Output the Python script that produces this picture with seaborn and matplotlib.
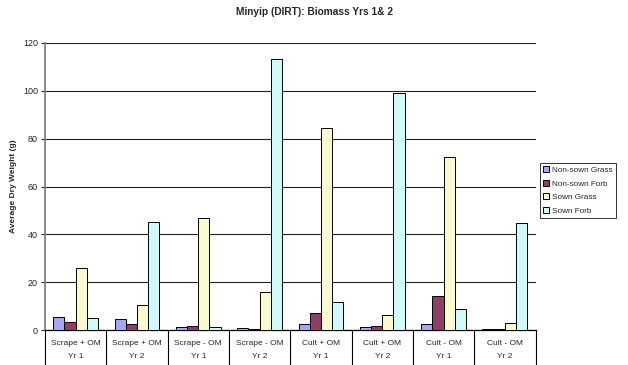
import matplotlib
matplotlib.use("Agg")
import matplotlib.pyplot as plt
import seaborn as sns
import pandas as pd

treatments = ["Scrape + OM", "Scrape + OM", "Scrape - OM", "Scrape - OM",
              "Cult + OM", "Cult + OM", "Cult - OM", "Cult - OM"]
years = ["Yr 1", "Yr 2", "Yr 1", "Yr 2", "Yr 1", "Yr 2", "Yr 1", "Yr 2"]
series = ["Non-sown Grass", "Non-sown Forb", "Sown Grass", "Sown Forb"]
non_sown_grass = [5.4, 4.5, 1.2, 0.7, 2.4, 1.1, 2.4, 0.3]
non_sown_forb = [3.4, 2.5, 1.6, 0.5, 7.0, 1.6, 14.1, 0.5]
sown_grass = [26.1, 10.3, 46.8, 15.7, 84.3, 6.4, 72.4, 2.8]
sown_forb = [4.9, 45.3, 1.2, 113.2, 11.7, 99.2, 8.9, 44.7]
colors = ["#9999FF", "#993366", "#FFFFCC", "#CCFFFF"]

cats = [f"{t}\n{y}" for t, y in zip(treatments, years)]
rows = []
for s, vals in zip(series, [non_sown_grass, non_sown_forb, sown_grass, sown_forb]):
    for c, v in zip(cats, vals):
        rows.append({"cat": c, "series": s, "value": v})
df = pd.DataFrame(rows)

sns.set_style("white")
plt.rcParams["font.family"] = ["Liberation Sans", "DejaVu Sans"]

fig = plt.figure(figsize=(6.28, 3.65), dpi=100)
ax = fig.add_axes([45 / 628, 35 / 365, 490.5 / 628, 287 / 365])

sns.barplot(data=df, x="cat", y="value", hue="series", order=cats,
            hue_order=series, palette=colors, width=0.73, ax=ax,
            edgecolor="black", linewidth=0.7, errorbar=None, legend=True, zorder=3)

ax.set_ylim(0, 120)
ax.set_yticks(range(0, 121, 20))
ax.set_xlim(-0.5, 7.5)
ax.yaxis.grid(True, color="#222222", linewidth=0.8, zorder=0)
ax.set_axisbelow(True)
for sp in ["top", "right"]:
    ax.spines[sp].set_visible(False)
ax.spines["left"].set_color("#808080")
ax.spines["left"].set_linewidth(1.3)
ax.spines["bottom"].set_color("black")
ax.spines["bottom"].set_linewidth(0.9)
ax.tick_params(axis="y", left=True, length=3, width=0.8, color="#222222",
               labelsize=6.5, pad=2)
ax.tick_params(axis="x", bottom=False, labelsize=6, pad=4)
for lbl in ax.get_xticklabels():
    lbl.set_linespacing(2.2)
    lbl.set_verticalalignment("top")

ax.set_xlabel("")
ax.set_ylabel("Average Dry Weight (g)", fontsize=6, fontweight="bold", labelpad=4)

# category separators extending below the axis
for xpos in [i - 0.5 for i in range(9)]:
    ax.plot([xpos, xpos], [0, -35 / 287], transform=ax.get_xaxis_transform(),
            color="black", linewidth=0.8, clip_on=False)

fig.suptitle("Minyip (DIRT): Biomass Yrs 1& 2", fontsize=7.3, fontweight="bold",
             y=1 - 7 / 365, va="top")

handles, labels = ax.get_legend_handles_labels()
ax.get_legend().remove()
leg = fig.legend(handles, labels, loc="upper left",
                 bbox_to_anchor=(540 / 628, 1 - 163 / 365), fontsize=5.9,
                 frameon=True, fancybox=False, edgecolor="black",
                 handlelength=0.75, handleheight=0.75, handletextpad=0.3,
                 borderpad=0.4, labelspacing=0.7, borderaxespad=0)
leg.get_frame().set_linewidth(0.7)

fig.savefig("out.png", dpi=100)
